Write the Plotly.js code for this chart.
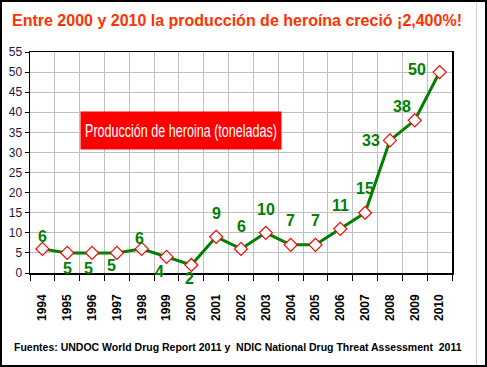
<!DOCTYPE html>
<html>
<head>
<meta charset="utf-8">
<script src="https://cdn.plot.ly/plotly-3.0.1.min.js"></script>
<style>
html,body{margin:0;padding:0;background:#fff;}
#wrap{position:relative;width:487px;height:367px;overflow:hidden;}
#chart{position:absolute;left:0;top:0;width:487px;height:367px;}
#frame{position:absolute;left:0;top:0;width:487px;height:367px;box-sizing:border-box;border:2px solid #000;pointer-events:none;}
#vline{position:absolute;left:476px;top:0;width:1px;height:367px;background:#d0d0d0;pointer-events:none;}
</style>
</head>
<body>
<div id="wrap">
<div id="chart"></div>
<div id="vline"></div>
<div id="frame"></div>
</div>
<script>
// Data
const years = ["1994","1995","1996","1997","1998","1999","2000","2001","2002","2003","2004","2005","2006","2007","2008","2009","2010"];
const production = [6,5,5,5,6,4,2,9,6,10,7,7,11,15,33,38,50];
const labelTexts = ["6","5","5","5","6","4","2","9","6","10","7","7","11","15","33","38","50"];

// Label offsets (styling, in pixels)
const labelDx = [0,0,-4,-5,-2,-7,-2,0,0,0,0,0,0,0,-19,-13,-23];
const labelDy = [12,-16,-16,-13,10,-15,-14,23,22,23,24,24,23,24,0,14,3];

const boxText = "Producción de heroina (toneladas)";

const trace = {
  x: years,
  y: production,
  type: "scatter",
  mode: "lines+markers",
  line: {color: "#008000", width: 3},
  marker: {symbol: "diamond", size: 10, color: "#ffffff", line: {color: "#ff0000", width: 1.2}},
  hoverinfo: "x+y",
  cliponaxis: false
};

// category axis: annotation x given as category index
const annotations = years.map((yr, i) => ({
  x: i, y: production[i], xref: "x", yref: "y",
  text: labelTexts[i], showarrow: false,
  xshift: labelDx[i], yshift: labelDy[i],
  font: {family: "Liberation Sans, Arial, sans-serif", size: 16, color: "#008000", weight: "bold"}
}));

annotations.push({
  xref: "paper", yref: "paper", x: 0.5, y: 1, xanchor: "center", yanchor: "middle",
  text: "Entre 2000 y 2010 la producción de heroína creció ¡2,400%!",
  showarrow: false, yshift: 32, xshift: -4,
  font: {family: "Liberation Sans, Arial, sans-serif", size: 16, color: "#ff3300", weight: "bold"}
});

annotations.push({
  xref: "paper", yref: "paper", x: (80-30)/422, y: (273-130.5)/221, xanchor: "left", yanchor: "middle",
  text: boxText,
  showarrow: false, bgcolor: "#ff0000", width: 198, height: 35,
  font: {family: "Liberation Sans, Arial, sans-serif", size: 17.5, color: "#ffffff"}
});

annotations.push({
  xref: "paper", yref: "paper", x: (12-30)/422, y: (273-347)/221, xanchor: "left", yanchor: "middle",
  text: "Fuentes: UNDOC World Drug Report 2011 y  NDIC National Drug Threat Assessment  2011",
  showarrow: false,
  font: {family: "Liberation Sans, Arial, sans-serif", size: 10.5, color: "#000000", weight: "bold"}
});

const layout = {
  width: 487, height: 367,
  margin: {l: 30, r: 35, t: 52, b: 94},
  paper_bgcolor: "#ffffff", plot_bgcolor: "#ffffff",
  showlegend: false,
  xaxis: {
    type: "category", tickson: "boundaries",
    range: [-0.5, years.length - 0.5], autorange: false,
    showgrid: true, gridcolor: "#c0c0c0", gridwidth: 1,
    showline: true, linecolor: "#000000", linewidth: 1.5, mirror: true,
    ticks: "outside", ticklen: 6, tickcolor: "#000000",
    tickangle: -90, ticklabelstandoff: 15,
    tickfont: {family: "Liberation Sans, Arial, sans-serif", size: 12, color: "#000000", weight: "bold"},
    zeroline: false, fixedrange: true
  },
  yaxis: {
    range: [0, 55], autorange: false, dtick: 5, tick0: 0,
    showgrid: true, gridcolor: "#c0c0c0", gridwidth: 1,
    showline: true, linecolor: "#000000", linewidth: 1.5, mirror: true,
    ticks: "outside", ticklen: 4, tickcolor: "#000000",
    tickfont: {family: "Liberation Sans Narrow, Arial Narrow, sans-serif", size: 12, color: "#1a1a33"},
    zeroline: false, fixedrange: true
  },
  annotations: annotations
};

Plotly.newPlot("chart", [trace], layout, {displayModeBar: false, staticPlot: true}).then(function (gd) {
  // condense the boxed label so it fits its narrow box, like the original narrow font
  gd.querySelectorAll(".annotation-text").forEach(function (t) {
    if (t.textContent === boxText) {
      t.setAttribute("textLength", "192");
      t.setAttribute("lengthAdjust", "spacingAndGlyphs");
      const g = t.closest(".annotation-text-g");
      if (g) g.removeAttribute("clip-path");
      const c = t.closest("[clip-path]");
      if (c) c.removeAttribute("clip-path");
    }
  });
});
</script>
</body>
</html>
